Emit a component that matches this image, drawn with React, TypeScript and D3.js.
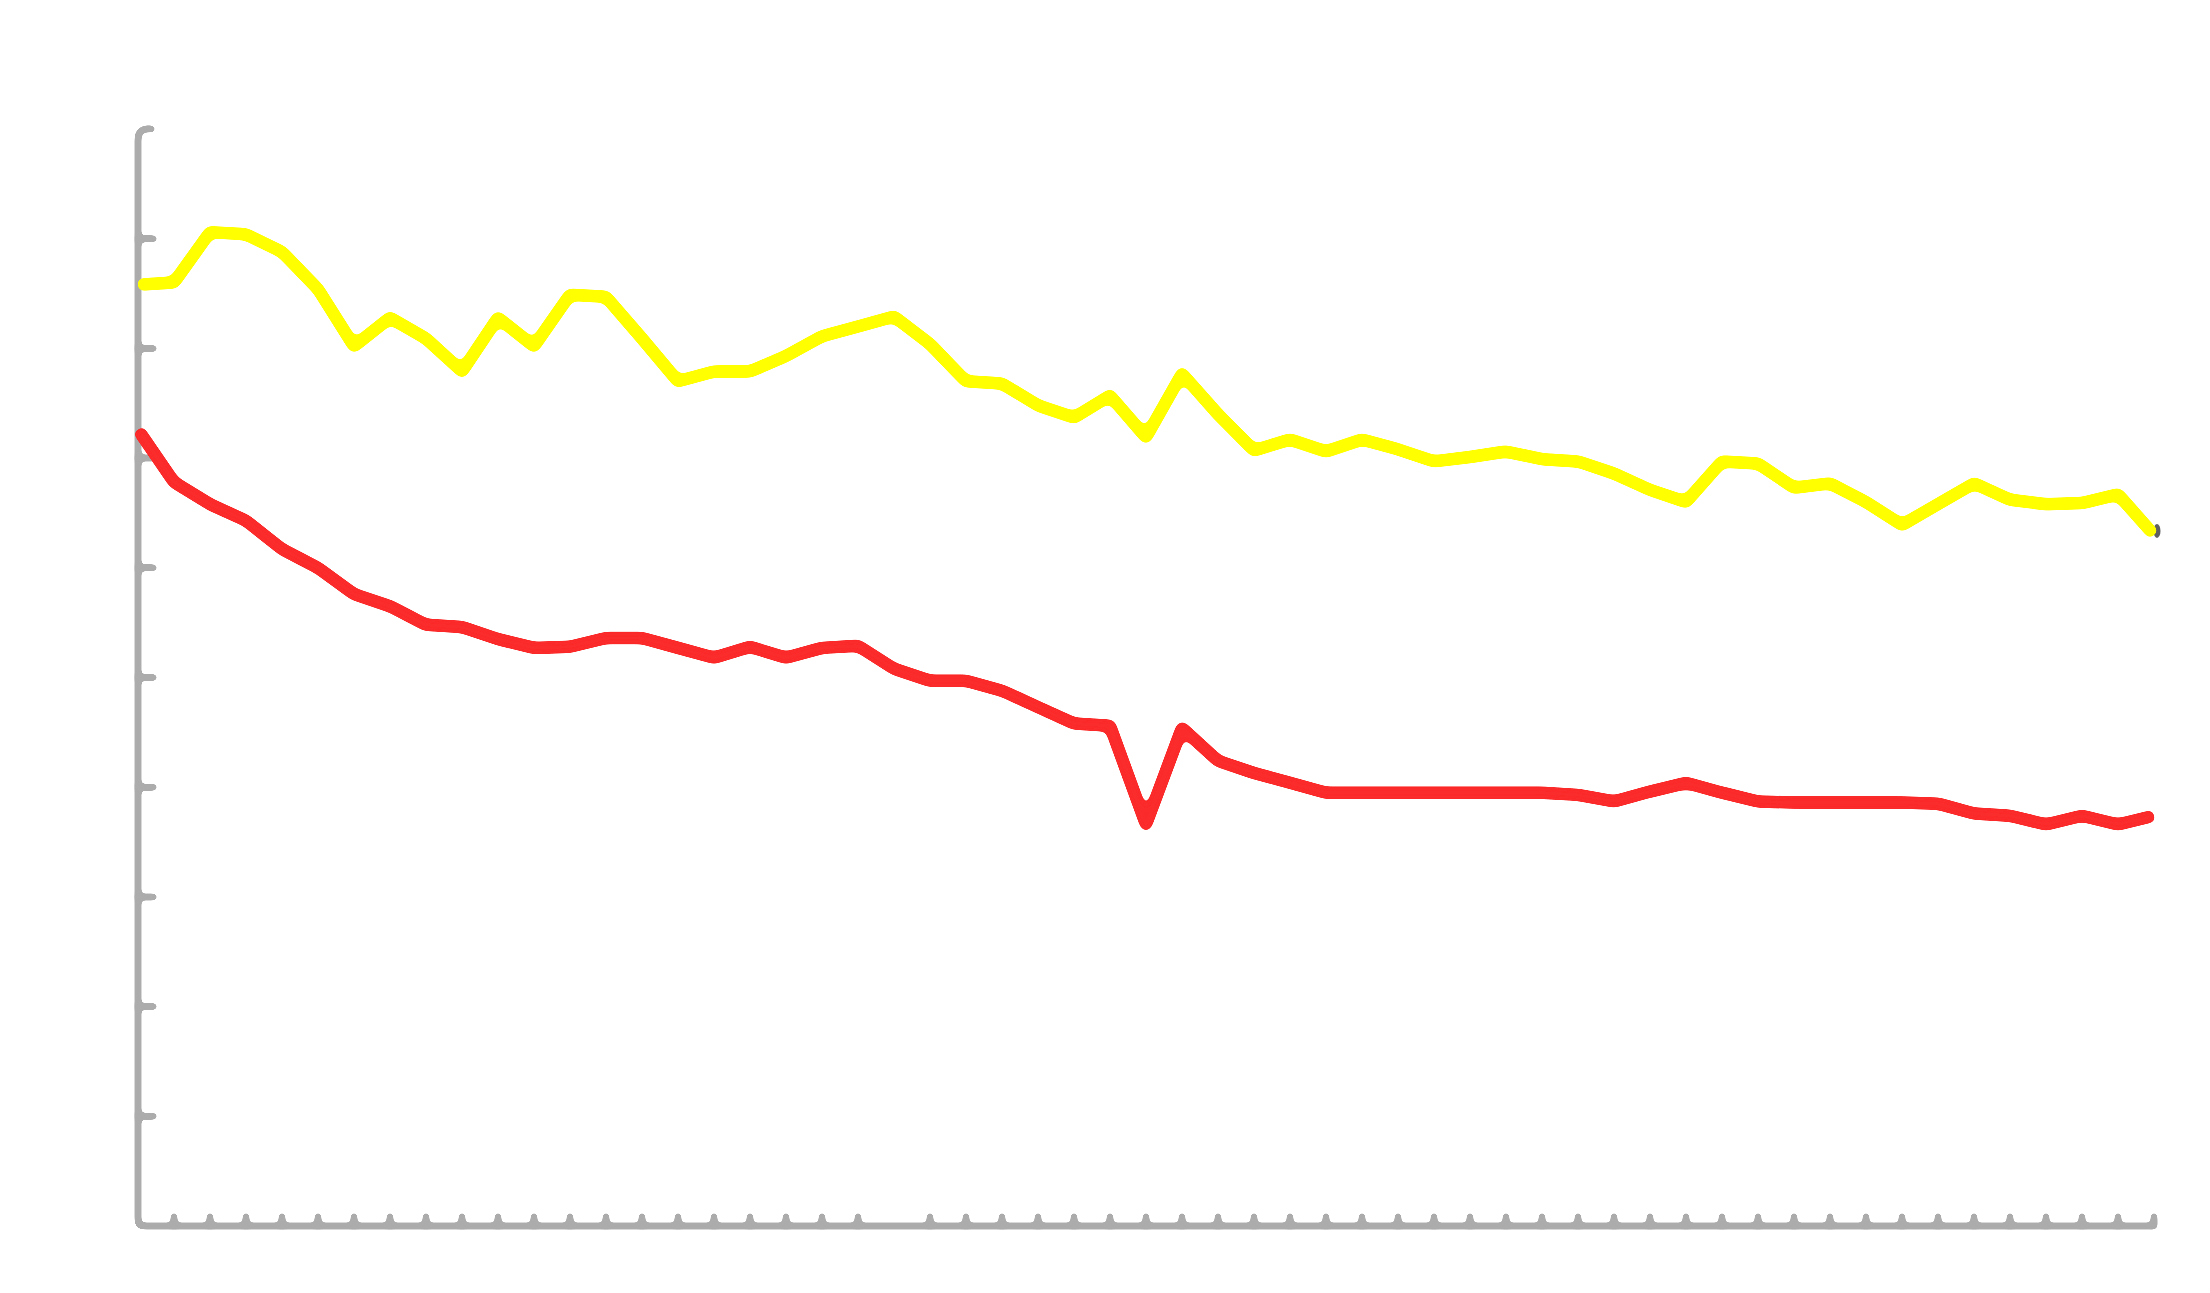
import React from "react";
import * as d3 from "d3";

const W = 2210;
const H = 1293;

// index positions (57 points, 0..56)
const yellowValues = [
  85.8, 86.0, 90.6, 90.4, 88.8, 85.4, 80.2, 82.8, 80.9, 77.9, 82.8, 80.2,
  84.9, 84.7, 80.9, 77.0, 77.9, 77.9, 79.3, 81.1, 82.0, 82.9, 80.4, 77.0,
  76.8, 74.8, 73.7, 75.7, 71.9, 77.7, 74.0, 70.7, 71.7, 70.6, 71.7, 70.8,
  69.7, 70.1, 70.6, 69.9, 69.7, 68.6, 67.1, 66.0, 69.7, 69.5, 67.3, 67.7,
  66.0, 63.9, 65.8, 67.7, 66.2, 65.8, 65.9, 66.7, 63.0,
];

const redValues = [
  72.6, 67.8, 65.8, 64.3, 61.7, 60.0, 57.6, 56.5, 54.8, 54.6, 53.5, 52.7,
  52.8, 53.6, 53.6, 52.7, 51.8, 52.8, 51.8, 52.7, 52.9, 50.8, 49.7, 49.7,
  48.8, 47.3, 45.8, 45.6, 36.6, 45.4, 42.4, 41.3, 40.4, 39.5, 39.5, 39.5,
  39.5, 39.5, 39.5, 39.5, 39.3, 38.7, 39.6, 40.4, 39.5, 38.7, 38.6, 38.6,
  38.6, 38.6, 38.5, 37.6, 37.4, 36.6, 37.4, 36.6, 37.4,
];

const yTickValues = [10, 20, 30, 40, 50, 60, 70, 80, 90];
const xTickIndices = d3.range(1, 57).filter((i) => i !== 21);

const x = d3.scaleLinear().domain([0, 56]).range([138, 2154]);
const y = d3.scaleLinear().domain([0, 100]).range([1226, 129]);

export default function App() {
  const line = d3
    .line<number>()
    .x((_, i) => x(i))
    .y((d) => y(d))
    .curve(d3.curveLinear);

  const x0 = x(0);
  const y0 = y(0);
  const yTop = y(100);
  const xEnd = x(56);

  const axisPath = `M ${x0 + 14} ${yTop} Q ${x0} ${yTop - 2} ${x0} ${yTop + 10} L ${x0} ${y0 - 6} Q ${x0} ${y0} ${x0 + 6} ${y0} L ${xEnd} ${y0}`;

  return (
    <svg
      width={W}
      height={H}
      style={{ position: "absolute", left: 0, top: 0, background: "#fff" }}
    >
      <defs>
        <filter id="goo" x="-2%" y="-2%" width="104%" height="104%">
          <feGaussianBlur in="SourceGraphic" stdDeviation="2.2" result="b" />
          <feColorMatrix
            in="b"
            mode="matrix"
            values="1 0 0 0 0  0 1 0 0 0  0 0 1 0 0  0 0 0 16 -5.5"
          />
        </filter>
        <filter id="soft" x="-2%" y="-5%" width="104%" height="110%">
          <feGaussianBlur in="SourceGraphic" stdDeviation="3" result="b" />
          <feColorMatrix
            in="b"
            mode="matrix"
            values="1 0 0 0 0  0 1 0 0 0  0 0 1 0 0  0 0 0 14 -6"
          />
        </filter>
      </defs>
      <rect x={0} y={0} width={W} height={H} fill="#ffffff" />
      <g filter="url(#goo)" stroke="#acacac" fill="none" strokeLinecap="round" strokeLinejoin="round">
        <path d={axisPath} strokeWidth={5.5} />
        {yTickValues.map((v) => (
          <line key={"yt" + v} x1={x0} x2={x0 + 16} y1={y(v)} y2={y(v)} strokeWidth={5.5} />
        ))}
        {xTickIndices.map((i) => (
          <line key={"xt" + i} x1={x(i)} x2={x(i)} y1={y0} y2={y0 - 10} strokeWidth={5.5} />
        ))}
      </g>
      <ellipse cx={xEnd + 3} cy={y(yellowValues[56]) - 4} rx={3.5} ry={7} fill="#606060" />
      <g filter="url(#soft)">
        <path
          d={line(redValues) || ""}
          fill="none"
          stroke="#fb2b2b"
          strokeWidth={12}
          strokeLinejoin="round"
          strokeLinecap="butt"
        />
      </g>
      <g filter="url(#soft)">
        <path
          d={line(yellowValues) || ""}
          fill="none"
          stroke="#ffff00"
          strokeWidth={12}
          strokeLinejoin="round"
          strokeLinecap="butt"
        />
      </g>
    </svg>
  );
}
